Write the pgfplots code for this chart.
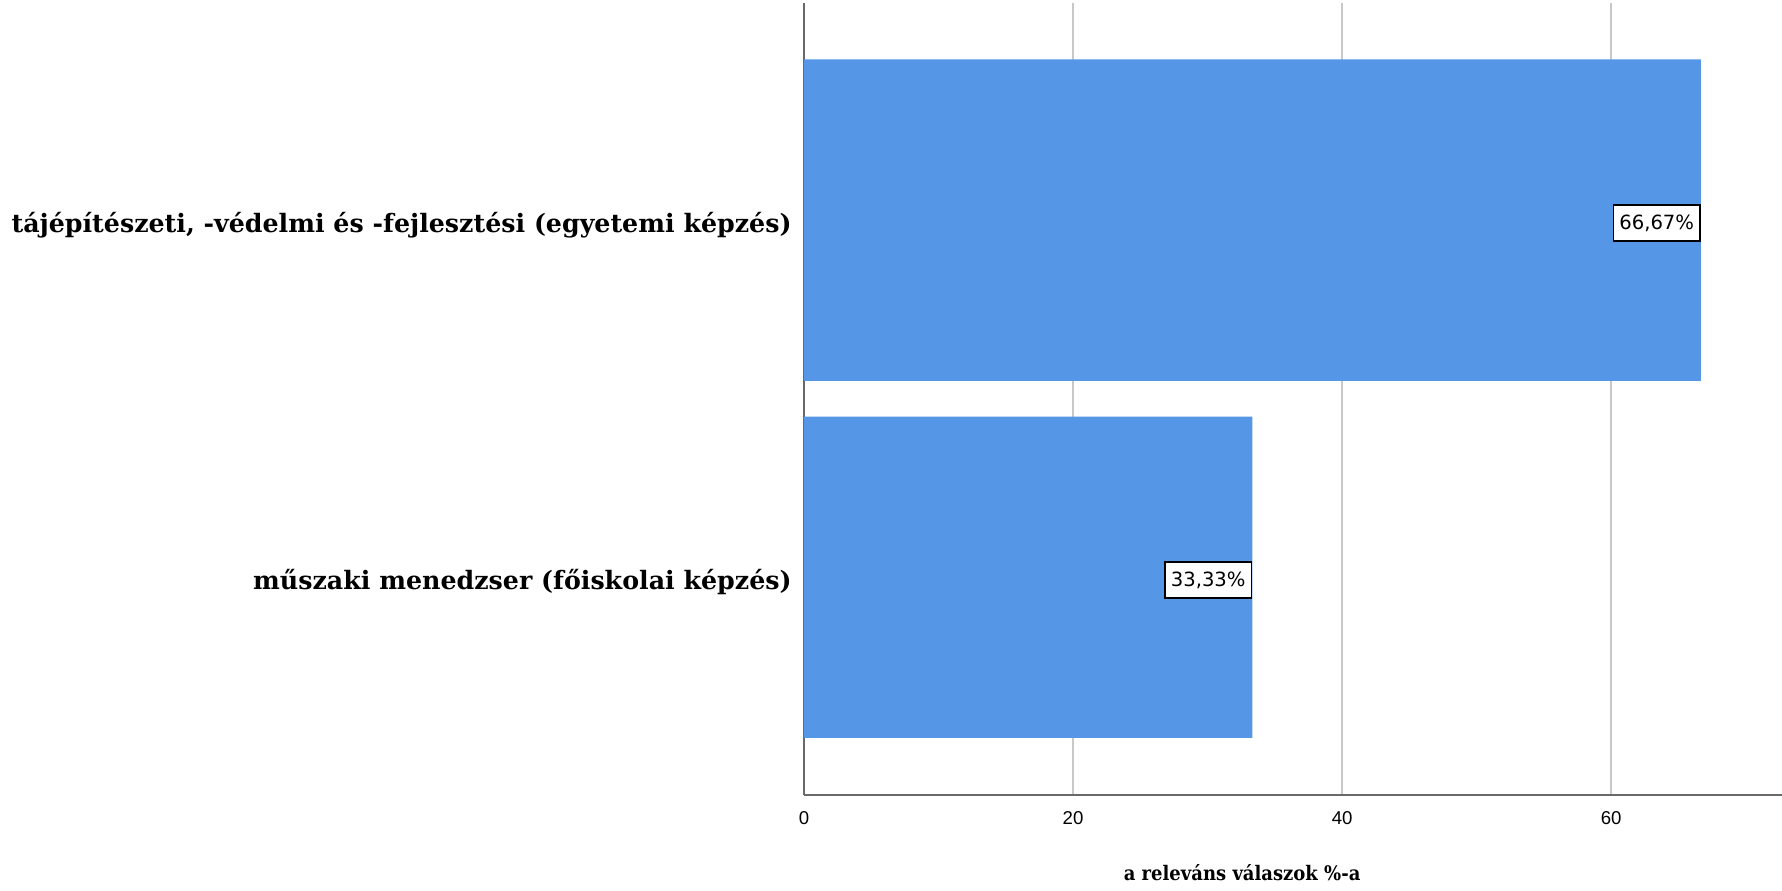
\documentclass[border=0pt]{standalone}
\usepackage{pgfplots}
\pgfplotsset{compat=1.18}
\usepackage{fontspec}
\setmainfont{DejaVu Serif}
\newfontfamily\condfont{DejaVu Serif Condensed}
\newfontfamily\tickfont{Liberation Sans}
\newfontfamily\valfont{DejaVu Sans}
\definecolor{barblue}{RGB}{85,150,230}
\definecolor{gridgray}{RGB}{200,200,200}
\definecolor{axgray}{RGB}{105,105,105}
\begin{document}
\begin{tikzpicture}[x=1pt,y=1pt]
\path[use as bounding box] (0,0) rectangle (891,445);
\begin{axis}[
  at={(402pt,47.5pt)}, anchor=south west,
  scale only axis, width=489pt, height=396pt,
  xbar, bar width=0.9,
  xmin=0, xmax=72.7, ymin=-0.61, ymax=1.608,
  axis x line*=bottom, axis y line*=left,
  axis line style={-, draw=axgray, line width=1pt},
  xtick={0,20,40,60}, ytick={0,1},
  yticklabels={{\fontsize{12.65}{15}\selectfont\bfseries műszaki menedzser (főiskolai képzés)},{\fontsize{12.65}{15}\selectfont\bfseries tájépítészeti, -védelmi és -fejlesztési (egyetemi képzés)}},
  major tick length=0pt,
  xmajorgrids, grid style={gridgray, line width=1pt},
  /pgf/number format/assume math mode=true,
  xticklabel style={font=\tickfont\fontsize{9.3}{10}\selectfont, anchor=north, inner sep=0pt, yshift=-8pt},
  yticklabel style={anchor=east, inner sep=0pt, xshift=-6pt, yshift=-2.5pt},
  xlabel={\condfont\fontsize{10}{12}\selectfont\bfseries a releváns válaszok \%-a},
  xlabel style={at={(rel axis cs:0.448,0)}, anchor=center, yshift=-39pt},
  point meta=explicit symbolic,
  nodes near coords,
  nodes near coords style={anchor=east, draw=black, fill=white, line width=0.8pt, inner xsep=3pt, inner ysep=4.8pt, yshift=-1.5pt, font=\valfont\fontsize{9.8}{11}\selectfont, text=black},
]
\addplot[fill=barblue, draw=none] coordinates {(33.33,0) [33,33\%] (66.67,1) [66,67\%]};
\end{axis}
\end{tikzpicture}
\end{document}
